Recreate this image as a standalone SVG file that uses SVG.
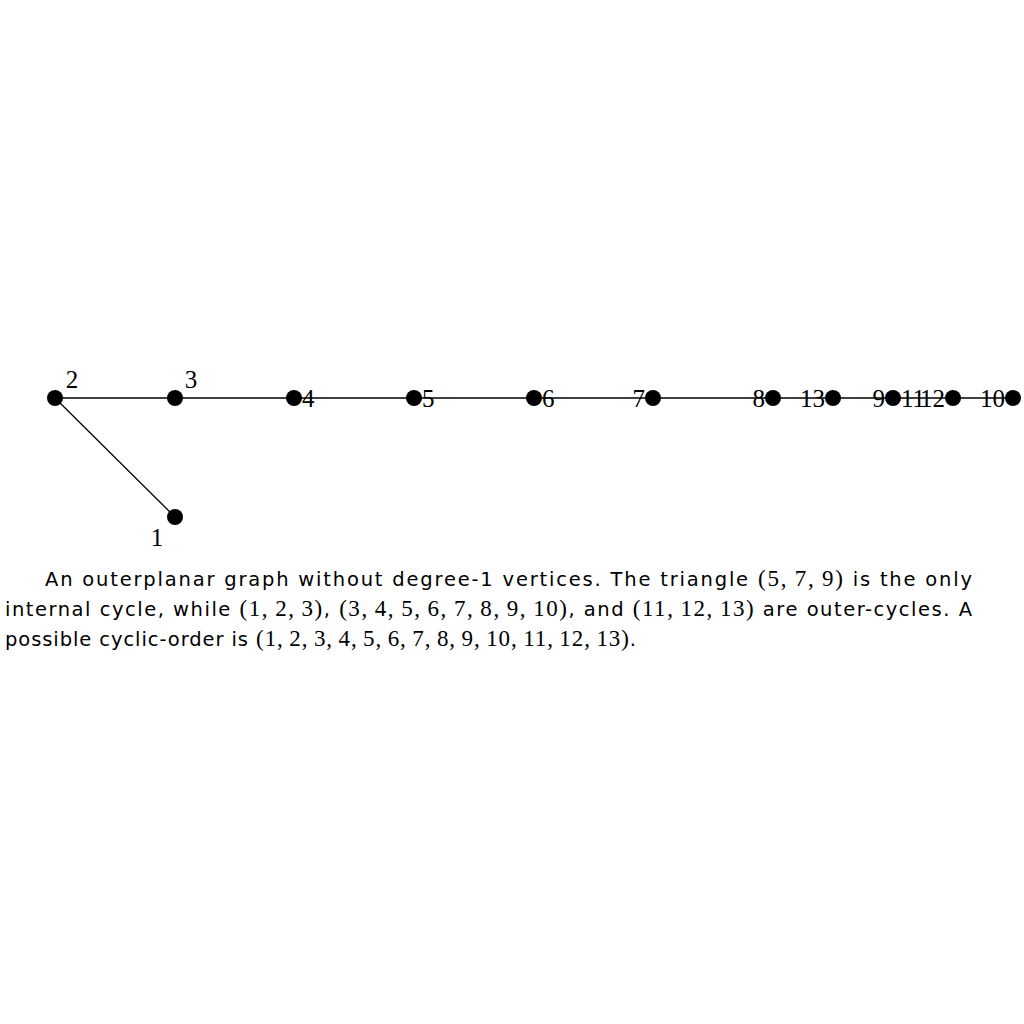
<svg xmlns="http://www.w3.org/2000/svg" width="1024" height="1024" viewBox="0 0 1024 1024">
<style>
.v{fill:#000}
.e{stroke:#000;stroke-width:1.3;fill:none}
.lb{font-family:"Liberation Serif","DejaVu Serif",serif;font-size:25px;fill:#000}
.cap{font-family:"DejaVu Sans","Liberation Sans",sans-serif;font-size:19.5px;fill:#000}
.m{font-family:"Liberation Serif","DejaVu Serif",serif;font-size:23px}
</style>
<rect width="1024" height="1024" fill="#fff"/>
<g id="connectors">
<line class="e" x1="55" y1="398" x2="1013" y2="398"/>
<line class="e" x1="55" y1="398" x2="175" y2="517"/>
</g>
<g id="n1"><circle class="v" cx="175" cy="517" r="8"/><text class="lb" x="157" y="546" text-anchor="middle">1</text></g>
<g id="n2"><circle class="v" cx="55" cy="398" r="8"/><text class="lb" x="72" y="388" text-anchor="middle">2</text></g>
<g id="n3"><circle class="v" cx="175" cy="398" r="8"/><text class="lb" x="191" y="388" text-anchor="middle">3</text></g>
<g id="n4"><circle class="v" cx="294" cy="398" r="8"/><text class="lb" x="302" y="407">4</text></g>
<g id="n5"><circle class="v" cx="414" cy="398" r="8"/><text class="lb" x="422" y="407">5</text></g>
<g id="n6"><circle class="v" cx="534" cy="398" r="8"/><text class="lb" x="542" y="407">6</text></g>
<g id="n7"><circle class="v" cx="653" cy="398" r="8"/><text class="lb" x="645" y="407" text-anchor="end">7</text></g>
<g id="n8"><circle class="v" cx="773" cy="398" r="8"/><text class="lb" x="765" y="407" text-anchor="end">8</text></g>
<g id="n13"><circle class="v" cx="833" cy="398" r="8"/><text class="lb" x="825" y="407" text-anchor="end">13</text></g>
<g id="n9"><circle class="v" cx="893" cy="398" r="8"/><text class="lb" x="885" y="407" text-anchor="end">9</text></g>
<g id="n11"><text class="lb" x="901" y="407">11</text></g>
<g id="n12"><circle class="v" cx="953" cy="398" r="8"/><text class="lb" x="945" y="407" text-anchor="end">12</text></g>
<g id="n10"><circle class="v" cx="1013" cy="398" r="8"/><text class="lb" x="1005" y="407" text-anchor="end">10</text></g>
<g id="caption">
<text class="cap" x="45" y="586" textLength="927" lengthAdjust="spacing">An outerplanar graph without degree-1 vertices.  The triangle <tspan class="m">(5,&#8201;7,&#8201;9)</tspan> is the only</text>
<text class="cap" x="5" y="616" textLength="967" lengthAdjust="spacing">internal cycle, while <tspan class="m">(1,&#8201;2,&#8201;3)</tspan>, <tspan class="m">(3,&#8201;4,&#8201;5,&#8201;6,&#8201;7,&#8201;8,&#8201;9,&#8201;10)</tspan>, and <tspan class="m">(11,&#8201;12,&#8201;13)</tspan> are outer-cycles.  A</text>
<text class="cap" x="5" y="646" textLength="631" lengthAdjust="spacing">possible cyclic-order is <tspan class="m">(1,&#8201;2,&#8201;3,&#8201;4,&#8201;5,&#8201;6,&#8201;7,&#8201;8,&#8201;9,&#8201;10,&#8201;11,&#8201;12,&#8201;13)</tspan>.</text>
</g>
</svg>
